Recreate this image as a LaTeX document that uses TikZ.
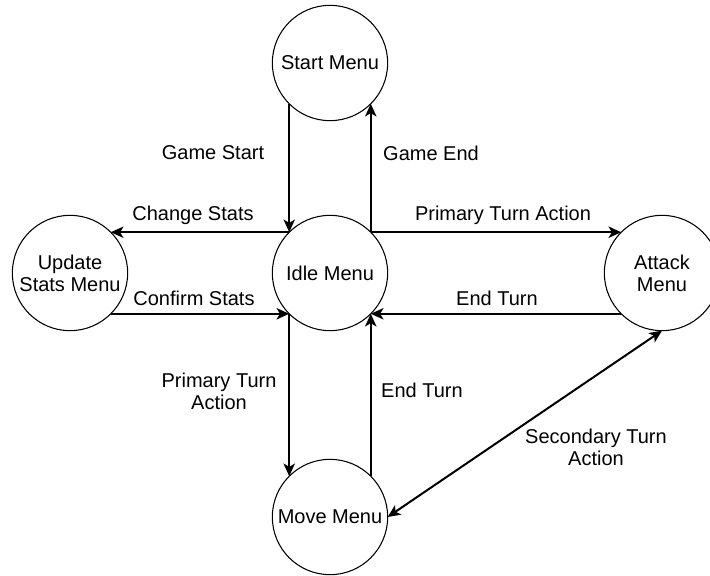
\documentclass[tikz,border=0pt]{standalone}
\usepackage{fontspec}
\setmainfont{Liberation Sans}
\usetikzlibrary{arrows.meta}
\begin{document}
\begin{tikzpicture}[x=0.75pt,y=-0.75pt,
  state/.style={draw=black,line width=0.8pt,circle,minimum size=86.5pt,inner sep=0pt,outer sep=0pt,align=center,font=\fontsize{15}{16.5}\selectfont},
  lbl/.style={align=center,inner sep=0pt,font=\fontsize{15}{16.5}\selectfont},
  conn/.style={line width=1.5pt,-{Stealth[length=9.5pt,width=8.5pt,inset=2.5pt]}},
  conn2/.style={line width=1.5pt,{Stealth[length=9.5pt,width=8.5pt,inset=2.5pt]}-{Stealth[length=9.5pt,width=8.5pt,inset=2.5pt]}}]
\useasboundingbox (0,0) rectangle (710,575);
\node[state] (start) at (330,63) {Start Menu};
\node[state] (idle) at (330,273) {Idle Menu};
\node[state] (update) at (70,273) {Update\\Stats Menu};
\node[state] (attack) at (662,273) {Attack\\Menu};
\node[state] (move) at (330,517) {Move Menu};

\draw[conn] (start.225) -- (idle.135);
\draw[conn] (idle.45) -- (start.315);
\draw[conn] (idle.135) -- (update.45);
\draw[conn] (idle.45) -- (attack.135);
\draw[conn] (update.315) -- (idle.225);
\draw[conn] (attack.225) -- (idle.315);
\draw[conn] (idle.225) -- (move.135);
\draw[conn] (move.45) -- (idle.315);
\draw[conn2] (move.east) -- (attack.south);

\node[lbl] (lGameStart) at (213,153) {Game Start};
\node[lbl] (lGameEnd) at (431,153) {Game End};
\node[lbl] (lChange) at (193,215) {Change Stats};
\node[lbl] (lPrimTop) at (503,215) {Primary Turn Action};
\node[lbl] (lConfirm) at (194,298) {Confirm Stats};
\node[lbl] (lEndTop) at (497,298) {End Turn};
\node[lbl] (lPrimLow) at (219,391) {Primary Turn\\Action};
\node[lbl] (lEndLow) at (422,390) {End Turn};
\node[lbl] (lSecond) at (596,447) {Secondary Turn\\Action};
\end{tikzpicture}
\end{document}
